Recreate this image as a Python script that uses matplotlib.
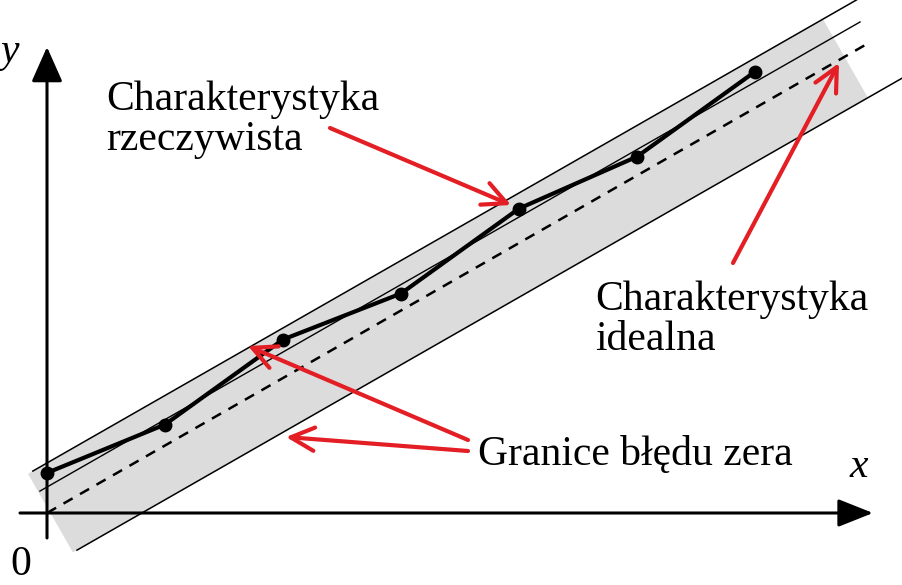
import numpy as np
import matplotlib
matplotlib.use("Agg")
import matplotlib.pyplot as plt
from matplotlib.patches import Polygon

# ---- data (logical units; 1 unit along both axes) ----
real_x = [0, 1, 2, 3, 4, 5, 6]
real_y = [0.34, 0.75, 1.47, 1.86, 2.58, 3.02, 3.74]

ideal_slope = 0.572
ideal_x = [0.0, 6.95]

upper_offset = 0.424
upper_x = [-0.12, 6.86]
mid_offset = 0.22
mid_x = [-0.06, 6.89]
lower_offset = -0.46
lower_x = [0.254, 7.25]

band_x = [-0.161, 6.576]   # along upper edge

label_real = "Charakterystyka\nrzeczywista"
label_ideal = "Charakterystyka\nidealna"
label_limits = "Granice błędu zera"

# ---- figure ----
W, H = 902, 585
ox, oy, s = 47, 513, 118.0
fig = plt.figure(figsize=(W / 100, H / 100), dpi=100)
ax = fig.add_axes([0, 0, 1, 1])
ax.set_xlim(-ox / s, (W - ox) / s)
ax.set_ylim((oy - H) / s, oy / s)
ax.axis("off")

def P(px, py):
    return ((px - ox) / s, (oy - py) / s)

k = ideal_slope
line = lambda xs, off: np.array(xs) * k + off

# gray band (rotated rectangle between upper and lower boundary)
gap = upper_offset - lower_offset
d = gap / np.hypot(1, k)
n = np.array([k, -1]) / np.hypot(1, k)
tl = np.array([band_x[0], band_x[0] * k + upper_offset])
tr = np.array([band_x[1], band_x[1] * k + upper_offset])
bl = tl + d * n
br = tr + d * n
ax.add_patch(Polygon([tl, tr, br, bl], closed=True, fc="#dcdcdc", ec="none", zorder=1))

ax.plot(upper_x, line(upper_x, upper_offset), color="black", lw=1.1, zorder=3)
ax.plot(lower_x, line(lower_x, lower_offset), color="black", lw=1.1, zorder=3)
ax.plot(mid_x, line(mid_x, mid_offset), color="black", lw=1.0, zorder=3)
ax.plot(ideal_x, line(ideal_x, 0), color="black", lw=1.8,
        linestyle=(0, (4.2, 3.4)), zorder=3)

ax.plot(real_x, real_y, color="black", lw=3.0, zorder=4)
ax.plot(real_x, real_y, "o", color="black", ms=9, zorder=5)

# coordinate axes
ax.annotate("", xy=P(47, 47), xytext=P(47, 538),
            arrowprops=dict(arrowstyle="-|>,head_length=1.08,head_width=0.48",
                            lw=2.2, color="black", shrinkA=0, shrinkB=0,
                            mutation_scale=20), zorder=6)
ax.annotate("", xy=P(873, 513), xytext=P(20, 513),
            arrowprops=dict(arrowstyle="-|>,head_length=1.08,head_width=0.43",
                            lw=2.2, color="black", shrinkA=0, shrinkB=0,
                            mutation_scale=20), zorder=6)

red = "#e31e24"
def red_arrow(tail, head):
    ax.annotate("", xy=P(*head), xytext=P(*tail),
                arrowprops=dict(arrowstyle="->,head_length=0.85,head_width=0.42",
                                lw=3.0, color=red, shrinkA=0, shrinkB=0,
                                mutation_scale=20), zorder=7)

red_arrow((330, 128), (511, 205))
red_arrow((733, 263), (839, 63))
red_arrow((468, 440), (248, 346))
red_arrow((468, 451), (286, 437))

font = "Liberation Serif"
fs = 30
# multi-line texts: baseline refers to the last line
ax.text(*P(106, 150), label_real, fontsize=fs, family=font, ha="left",
        va="baseline", linespacing=1.05, zorder=8)
ax.text(*P(595, 350), label_ideal, fontsize=fs, family=font, ha="left",
        va="baseline", linespacing=1.05, zorder=8)
ax.text(*P(478, 465), label_limits, fontsize=fs, family=font, ha="left",
        va="baseline", zorder=8)
ax.text(*P(850, 477), "x", fontsize=fs, family=font, style="italic",
        ha="left", va="baseline", zorder=8)
ax.text(*P(0, 62), "y", fontsize=fs, family=font, style="italic",
        ha="left", va="baseline", zorder=8)
ax.text(*P(10, 584), "0", fontsize=fs, family=font, ha="left",
        va="bottom", zorder=8)

fig.savefig("out.png", dpi=100)
